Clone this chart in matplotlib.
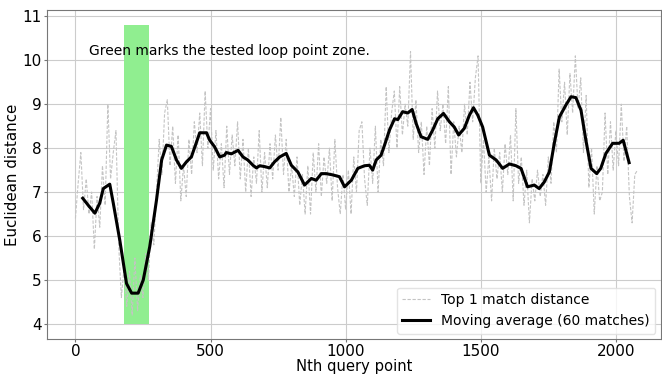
import matplotlib
matplotlib.use("Agg")
import matplotlib.pyplot as plt
import numpy as np

# Gray series: top-1 match distance, sampled every 10 query points
raw_x = list(range(0, 2090, 10))
raw_y = [
    6.4, 7.2, 7.9, 6.6, 7.3, 6.5, 7.0, 5.7, 6.9, 6.2,
    7.6, 6.7, 9.0, 7.3, 7.9, 8.4, 5.8, 4.6, 5.3, 4.4,
    5.2, 4.2, 5.5, 4.3, 5.1, 4.6, 5.6, 5.0, 6.3, 5.8,
    7.0, 8.2, 7.4, 8.8, 9.1, 7.6, 8.5, 7.2, 8.3, 6.8,
    7.6, 6.9, 8.2, 7.4, 8.6, 7.9, 8.8, 7.6, 9.3, 8.0,
    8.9, 7.5, 8.4, 7.3, 8.1, 7.1, 8.5, 7.4, 8.3, 7.6,
    8.6, 7.3, 8.2, 7.0, 8.0, 6.9, 7.8, 7.2, 8.4, 7.0,
    7.9, 7.1, 8.1, 7.3, 8.3, 7.5, 8.7, 7.4, 8.2, 7.0,
    7.6, 6.9, 7.8, 6.7, 7.4, 6.5, 7.6, 6.5, 7.9, 7.0,
    8.1, 6.9, 7.8, 7.2, 8.0, 6.8, 8.2, 7.1, 6.5, 7.4,
    6.6, 7.5, 6.5, 7.8, 7.0, 8.4, 8.6, 7.3, 6.7, 8.0,
    7.2, 8.5, 7.0, 8.2, 7.6, 9.4, 7.9, 8.8, 9.3, 8.0,
    9.4, 8.3, 9.0, 8.5, 10.2, 8.2, 9.1, 7.9, 8.6, 7.4,
    8.5, 7.6, 8.9, 8.0, 9.3, 8.4, 9.0, 8.1, 9.4, 7.4,
    8.6, 7.8, 8.5, 7.9, 9.0, 8.3, 9.5, 8.6, 9.6, 10.1,
    7.2, 8.2, 7.0, 7.8, 6.8, 8.0, 7.3, 7.9, 7.0, 8.1,
    7.4, 8.3, 6.8, 8.9, 7.2, 7.8, 6.7, 7.5, 6.3, 7.3,
    6.8, 7.5, 6.9, 7.4, 6.7, 7.8, 7.2, 8.6, 7.9, 9.8,
    8.6, 9.5, 8.3, 9.7, 8.8, 10.1, 8.9, 9.6, 7.9, 9.2,
    7.1, 8.0, 6.5, 7.6, 6.8, 7.0, 8.8, 7.4, 8.6, 7.5,
    8.4, 7.6, 9.0, 7.7, 8.5, 6.9, 6.3, 7.4, 7.5,
]

# Moving average (60 matches)
ma_x = [27, 50, 72, 90, 103, 127, 140, 164, 189, 208, 232, 251, 275, 300, 319,
        337, 355, 374, 392, 411, 429, 442, 460, 485, 497, 515, 534, 552, 558,
        577, 602, 620, 638, 657, 670, 682, 700, 719, 737, 756, 780, 799, 823,
        848, 873, 891, 910, 928, 953, 977, 996, 1021, 1045, 1070, 1088, 1100,
        1113, 1131, 1144, 1162, 1181, 1193, 1211, 1230, 1246, 1261, 1279, 1304,
        1322, 1341, 1362, 1384, 1402, 1418, 1439, 1458, 1473, 1489, 1507, 1532,
        1557, 1581, 1606, 1630, 1649, 1673, 1698, 1716, 1735, 1754, 1772, 1791,
        1815, 1834, 1852, 1871, 1889, 1908, 1929, 1944, 1963, 1988, 2012, 2027,
        2049]
ma_y = [6.86, 6.68, 6.52, 6.75, 7.08, 7.18, 6.75, 5.91, 4.92, 4.70, 4.70, 5.00,
        5.76, 6.82, 7.73, 8.07, 8.04, 7.73, 7.54, 7.69, 7.80, 8.03, 8.35, 8.35,
        8.18, 8.03, 7.80, 7.84, 7.90, 7.87, 7.95, 7.80, 7.73, 7.61, 7.55, 7.60,
        7.58, 7.55, 7.69, 7.80, 7.88, 7.61, 7.46, 7.16, 7.31, 7.27, 7.42, 7.42,
        7.39, 7.35, 7.12, 7.27, 7.54, 7.60, 7.61, 7.50, 7.73, 7.84, 8.07, 8.41,
        8.67, 8.65, 8.83, 8.80, 8.88, 8.56, 8.26, 8.20, 8.41, 8.67, 8.79, 8.60,
        8.48, 8.30, 8.45, 8.75, 8.92, 8.75, 8.48, 7.84, 7.73, 7.54, 7.64, 7.60,
        7.54, 7.12, 7.16, 7.08, 7.23, 7.46, 8.11, 8.71, 8.98, 9.17, 9.15, 8.86,
        8.18, 7.54, 7.42, 7.54, 7.88, 8.11, 8.11, 8.18, 7.67]

# Tested loop point zone
zone_x = [180, 272]
zone_low = 4.0
zone_high = 10.8

note = "Green marks the tested loop point zone."
note_pos = (50, 10.2)

fs = 10
fig = plt.figure(figsize=(6.62, 3.74), dpi=100)
ax = fig.add_axes([0.0715, 0.0928, 0.927, 0.880])

ax.fill_between(zone_x, zone_low, zone_high, color="#90ee90", linewidth=0, zorder=1)
ax.plot(raw_x, raw_y, linestyle="--", color="#c4c4c4", linewidth=0.8,
        dashes=(3, 1.5), label="Top 1 match distance", zorder=2)
ax.plot(ma_x, ma_y, color="black", linewidth=2.2,
        label="Moving average (60 matches)", zorder=3)

ax.text(note_pos[0], note_pos[1], note, fontsize=fs, va="center", ha="left")

ax.set_xlim(-104, 2167)
ax.set_ylim(3.65, 11.14)
ax.set_xticks([0, 500, 1000, 1500, 2000])
ax.set_yticks([4, 5, 6, 7, 8, 9, 10, 11])
ax.grid(True, color="#cccccc", linewidth=0.8)
ax.set_axisbelow(True)
ax.tick_params(labelsize=11, length=2.5, pad=1.5, color="#777777")
ax.tick_params(axis="x", pad=1.0)
for s in ax.spines.values():
    s.set_color("#777777")
ax.set_xlabel("Nth query point", fontsize=10.6, labelpad=-0.3)
ax.set_ylabel("Euclidean distance", fontsize=10.8, labelpad=2)

leg = ax.legend(loc="lower right", fontsize=fs, frameon=True, fancybox=True,
                borderaxespad=0.4, handlelength=2.0)
leg.get_frame().set_edgecolor("#dddddd")

fig.savefig("out.png", dpi=100)
